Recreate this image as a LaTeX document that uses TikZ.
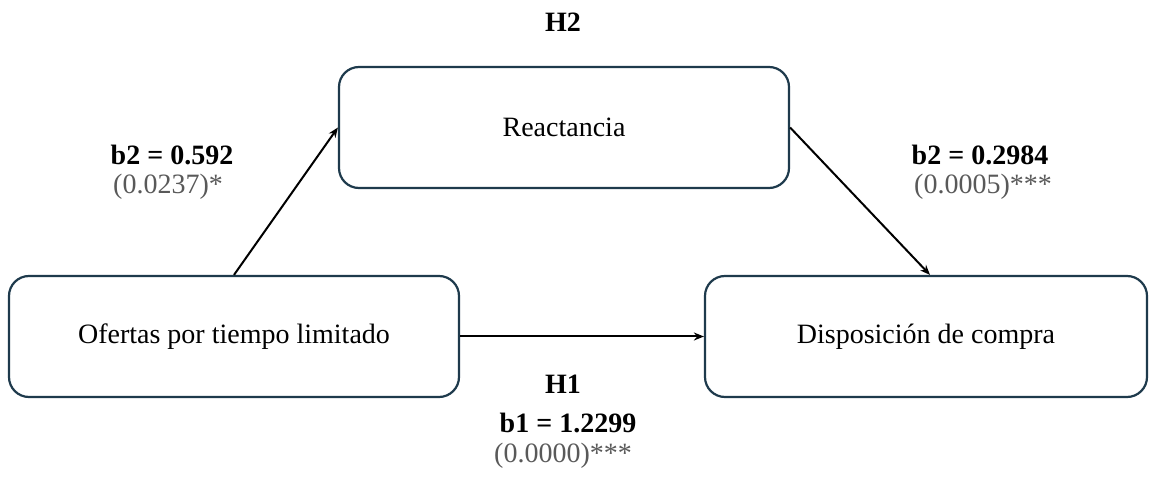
\documentclass[tikz,border=0pt]{standalone}
\usepackage{fontspec}
\setmainfont{Liberation Serif}
\usetikzlibrary{arrows.meta}
\definecolor{boxline}{HTML}{1E3A4C}
\definecolor{pgray}{HTML}{595959}
\tikzset{
  varbox/.style={draw=boxline, line width=2.2pt, rounded corners=20pt, fill=white,
    minimum width=450pt, minimum height=121pt, inner sep=0pt, font=\fontsize{28}{31}\selectfont},
  conn/.style={draw=black, line width=2pt, -{Stealth[length=10pt,width=8pt]}},
  coef/.style={font=\fontsize{28}{31}\selectfont\bfseries, inner sep=0pt},
  pval/.style={font=\fontsize{28}{31}\selectfont, text=pgray, inner sep=0pt},
}
\begin{document}
\begin{tikzpicture}[x=1pt,y=-1pt]
\useasboundingbox (0,0) rectangle (1149,478);
\node[varbox] (of) at (234,336.5) {Ofertas por tiempo limitado};
\node[varbox] (re) at (564,127.5) {Reactancia};
\node[varbox, minimum width=442pt] (di) at (926,336.5) {Disposición de compra};
\draw[conn] (of.north) -- (re.west);
\draw[conn] (re.east) -- ([xshift=4pt]di.north);
\draw[conn] (of.east) -- (di.west);
\node[coef] (h2) at (563,22) {H2};
\node[coef] (c1) at (172,155) {b2 = 0.592};
\node[pval] (p1) at (168,187) {(0.0237)*};
\node[coef] (c2) at (980,155) {b2 = 0.2984};
\node[pval] (p2) at (983,187) {(0.0005)***};
\node[coef] (h1) at (563,384) {H1};
\node[coef] (c3) at (568,423) {b1 = 1.2299};
\node[pval] (p3) at (563,456) {(0.0000)***};
\end{tikzpicture}
\end{document}
